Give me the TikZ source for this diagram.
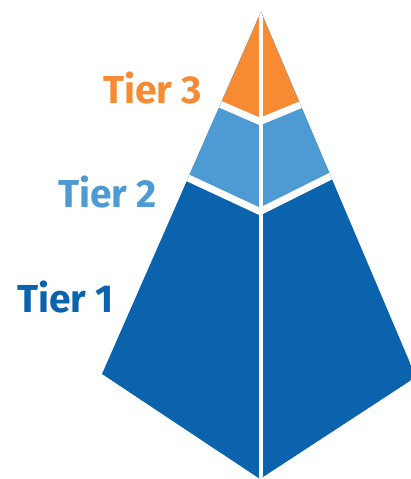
\documentclass[tikz,border=0pt]{standalone}
\usepackage{fontspec}
\setmainfont{Fira Sans}
\definecolor{tierorange}{RGB}{246,139,51}
\definecolor{tierlight}{RGB}{78,154,211}
\definecolor{tierdark}{RGB}{11,99,173}

\begin{document}
\begin{tikzpicture}[x=1pt,y=-1pt,
        tierlabel/.style={anchor=base east, inner sep=0pt, font=\fontsize{39}{39}\selectfont\bfseries},
        gap/.style={draw=white, line width=7pt}]
        \useasboundingbox (0,0) rectangle (411,479);
        \coordinate (apex) at (261,12);
        \coordinate (lc) at (102,374);
        \coordinate (bc) at (260,479);
        \coordinate (rc) at (416,377);
        \begin{scope}
        \clip (apex) -- (lc) -- (bc) -- (rc) -- cycle;
        \fill[tierdark] (0,0) rectangle (411,479);
        \fill[tierlight] (150,160.3) -- (260,211.5) -- (370,156.5) -- (370,0) -- (150,0) -- cycle;
        \fill[tierorange] (200,95.5) -- (260,121.5) -- (320,96.7) -- (320,0) -- (200,0) -- cycle;
        \draw[gap] (150,160.3) -- (260,211.5) -- (370,156.5);
        \draw[gap] (200,95.5) -- (260,121.5) -- (320,96.7);
        \draw[draw=white, line width=4pt] (260.5,0) -- (260.5,479);
        \end{scope}
        \node[tierlabel, text=tierorange] (T3) at (202,103) {Tier 3};
        \node[tierlabel, text=tierlight] (T2) at (157,207) {Tier 2};
        \node[tierlabel, text=tierdark] (T1) at (114,312) {Tier 1};
      \end{tikzpicture}
\end{document}
